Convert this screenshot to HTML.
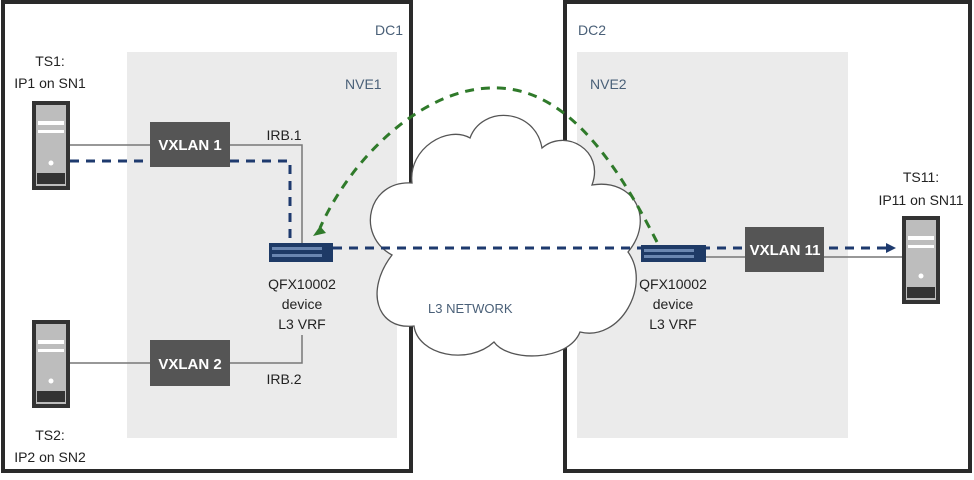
<!DOCTYPE html>
<html><head><style>
body{margin:0;width:974px;height:475px;background:#fff;overflow:hidden;font-family:"Liberation Sans",sans-serif}
</style></head><body>
<svg width="974" height="475" viewBox="0 0 974 475" font-family="Liberation Sans, sans-serif">
<rect x="3" y="2" width="408" height="469" fill="#fff" stroke="#2a2a2a" stroke-width="4"/>
<rect x="565" y="2" width="405" height="469" fill="#fff" stroke="#2a2a2a" stroke-width="4"/>
<rect x="127" y="52" width="270" height="386" fill="#ebebeb"/>
<rect x="577" y="52" width="271" height="386" fill="#ebebeb"/>
<g font-size="14" fill="#4a6078">
<text x="375" y="35">DC1</text><text x="345" y="89">NVE1</text>
<text x="578" y="35">DC2</text><text x="590" y="89">NVE2</text>
</g>
<!-- cloud -->
<path d="M392,255 C355,235 368,180 412,183 C408,148 448,125 470,138 C482,105 535,108 542,148 C565,128 605,150 592,185 C635,178 655,220 628,252 C652,285 620,342 580,332 C568,362 508,362 494,342 C468,366 418,355 414,326 C376,330 365,290 392,255 Z" fill="#fff" stroke="#555" stroke-width="1.3"/>
<text x="428" y="313" font-size="13" fill="#4a6078">L3 NETWORK</text>
<!-- solid lines -->
<g stroke="#777" stroke-width="1.5" fill="none">
<path d="M70,145 H150 M230,145 H302 V245"/>
<path d="M70,363 H150 M230,363 H302 V335"/>
<path d="M706,257 H745 M824,257 H902"/>
</g>
<!-- servers -->
<g>
<rect x="32" y="101" width="38" height="89" fill="#333"/><rect x="36" y="105" width="30" height="81" fill="#bdbdbd"/>
<rect x="38" y="121" width="26" height="4" fill="#fff"/><rect x="38" y="130" width="26" height="3" fill="#fff"/>
<circle cx="51" cy="163" r="2.5" fill="#fff"/><rect x="37" y="173" width="28" height="11" fill="#333"/>
<rect x="32" y="320" width="38" height="88" fill="#333"/><rect x="36" y="324" width="30" height="80" fill="#bdbdbd"/>
<rect x="38" y="340" width="26" height="4" fill="#fff"/><rect x="38" y="349" width="26" height="3" fill="#fff"/>
<circle cx="51" cy="381" r="2.5" fill="#fff"/><rect x="37" y="391" width="28" height="11" fill="#333"/>
<rect x="902" y="216" width="38" height="88" fill="#333"/><rect x="906" y="220" width="30" height="80" fill="#bdbdbd"/>
<rect x="908" y="236" width="26" height="4" fill="#fff"/><rect x="908" y="245" width="26" height="3" fill="#fff"/>
<circle cx="921" cy="276" r="2.5" fill="#fff"/><rect x="907" y="287" width="28" height="11" fill="#333"/>
</g>
<!-- dashed -->
<g fill="none" stroke-width="3" stroke-dasharray="9,7">
<path d="M70,161 H290 V243" stroke="#1e3a6e"/>
<path d="M333,248 H888" stroke="#1e3a6e"/>
<path d="M657,242 C610,150 560,85 490,88 C420,90 350,160 320,228" stroke="#2f7a2a"/>
</g>
<path d="M886,243 L896,248 L886,253 Z" fill="#1e3a6e"/>
<path d="M313,236 L320,226 L326,233 Z" fill="#2f7a2a"/>
<!-- vxlan boxes -->
<rect x="150" y="122" width="80" height="45" fill="#555"/>
<rect x="150" y="340" width="80" height="46" fill="#555"/>
<rect x="745" y="227" width="79" height="45" fill="#555"/>
<g font-size="15" fill="#fff" text-anchor="middle" font-weight="bold">
<text x="190" y="150">VXLAN 1</text><text x="190" y="369">VXLAN 2</text><text x="785" y="255">VXLAN 11</text>
</g>
<!-- switches -->
<rect x="269" y="243" width="64" height="19" fill="#1e3a66"/><rect x="272" y="247" width="50" height="3" fill="#6a86b0"/><rect x="272" y="254" width="50" height="3" fill="#6a86b0"/>
<rect x="641" y="245" width="65" height="17" fill="#1e3a66"/><rect x="644" y="249" width="50" height="3" fill="#6a86b0"/><rect x="644" y="255" width="50" height="3" fill="#6a86b0"/>
<!-- text labels -->
<g font-size="14" fill="#222" text-anchor="middle">
<text x="50" y="66">TS1:</text><text x="50" y="88">IP1 on SN1</text>
<text x="50" y="440">TS2:</text><text x="50" y="462">IP2 on SN2</text>
<text x="921" y="182">TS11:</text><text x="921" y="205">IP11 on SN11</text>
<text x="284" y="140">IRB.1</text><text x="284" y="384">IRB.2</text>
<text x="302" y="289">QFX10002</text><text x="302" y="309">device</text><text x="302" y="329">L3 VRF</text>
<text x="673" y="289">QFX10002</text><text x="673" y="309">device</text><text x="673" y="329">L3 VRF</text>
</g>
</svg>
</body></html>
